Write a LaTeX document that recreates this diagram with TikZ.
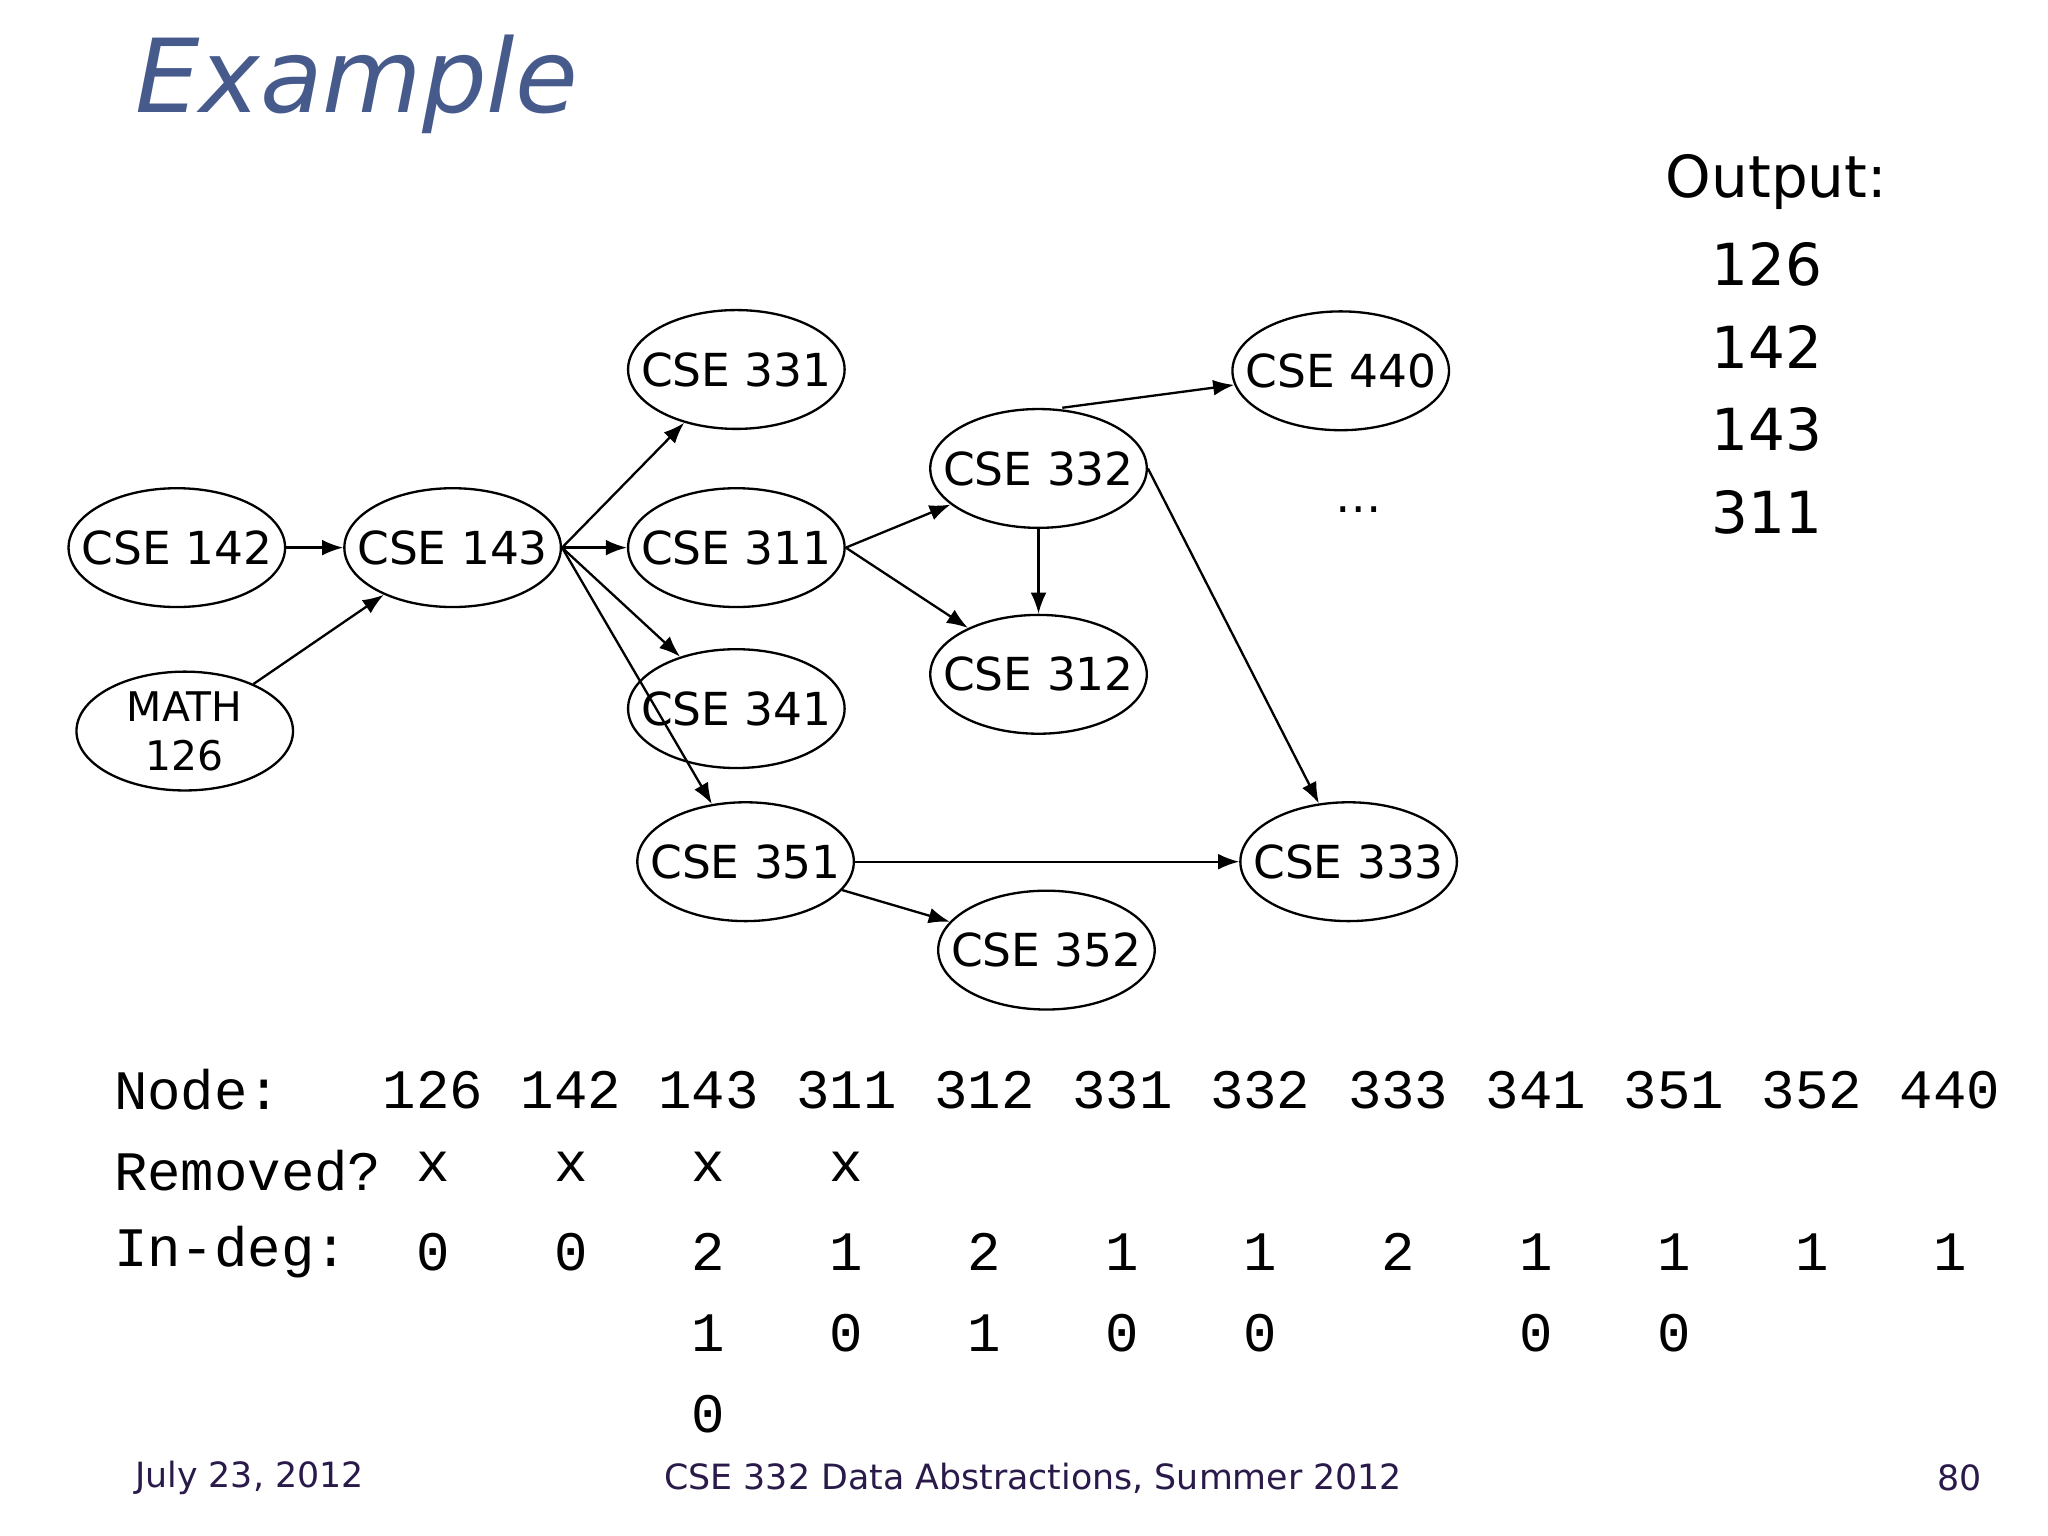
\documentclass[tikz,border=0pt]{standalone}
\usepackage{fontspec}
\setmainfont{DejaVu Sans}
\newfontfamily\monof{Liberation Mono}
\usetikzlibrary{shapes.geometric,arrows.meta}
\definecolor{titleblue}{HTML}{475A8C}
\definecolor{footc}{HTML}{2A1A4A}
\begin{document}
\begin{tikzpicture}[x=0.01cm,y=-0.01cm,
  course/.style={ellipse,draw,line width=0.5pt,minimum width=1.64cm,minimum height=0.9cm,inner xsep=-4.2pt,inner ysep=0pt,font=\fontsize{9.8}{11}\selectfont},
  edge/.style={-{Latex[length=1.6mm,width=1.2mm]},line width=0.5pt},
  cell/.style={font=\monof\fontsize{12}{14}\selectfont},
  foot/.style={font=\fontsize{7.5}{9}\selectfont,text=footc}]
\useasboundingbox (0,0) rectangle (1552,1164);
\node[anchor=west,font=\itshape\fontsize{22}{26}\selectfont,text=titleblue] (title) at (90,64) {Example};
\node[course] (c142) at (134,415) {CSE 142};
\node[course] (c143) at (343,415) {CSE 143};
\node[course,align=center,inner xsep=2pt,font=\fontsize{8.8}{10.5}\selectfont] (m126) at (140,554) {MATH\\126};
\node[course] (c331) at (558,280) {CSE 331};
\node[course] (c311) at (558,415) {CSE 311};
\node[course] (c341) at (558,537) {CSE 341};
\node[course] (c351) at (565,653) {CSE 351};
\node[course] (c332) at (787,355) {CSE 332};
\node[course] (c312) at (787,511) {CSE 312};
\node[course] (c352) at (793,720) {CSE 352};
\node[course] (c440) at (1016,281) {CSE 440};
\node[course] (c333) at (1022,653) {CSE 333};
\node (dots) at (1030,386) {\dots};
\draw[edge] (c142) -- (c143);
\draw[edge] (m126) -- (c143);
\draw[edge] (c143.east) -- (c331);
\draw[edge] (c143.east) -- (c311);
\draw[edge] (c143.east) -- (c341);
\draw[edge] (c143.east) -- (c351);
\draw[edge] (c311.east) -- (c332);
\draw[edge] (c311.east) -- (c312);
\draw[edge] (c332) -- (c312);
\coordinate (s440) at (805,309);
\draw[edge] (s440) -- (c440);
\draw[edge] (c332.east) -- (c333);
\draw[edge] (c351) -- (c333);
\draw[edge] (c351) -- (c352);
\node[anchor=west,font=\fontsize{12.5}{15}\selectfont] (out) at (1250,138) {Output:};
\foreach \v [count=\i] in {126,142,143,311}
  \node[font=\fontsize{12.5}{15}\selectfont] (o\i) at (1339,138+62.5*\i) {\v};
\node[cell,anchor=west] (hNode) at (74,826) {Node:};
\node[cell,anchor=west] (hRem) at (74,887) {Removed?};
\node[cell,anchor=west] (hDeg) at (74,949) {In-deg:};
\foreach \n/\d [count=\i] in {126/0,142/0,143/2,311/1,312/2,331/1,332/1,333/2,341/1,351/1,352/1,440/1}{
  \node[cell] (n\i) at (328+104.5*\i-104.5,826) {\n};
  \node[cell] (d\i) at (328+104.5*\i-104.5,949) {\d};
}
\foreach \i in {1,2,3,4} \node[cell] (r\i) at (328+104.5*\i-104.5,884) {x};
\foreach \i/\d in {3/1,4/0,5/1,6/0,7/0,9/0,10/0} \node[cell] (e\i) at (328+104.5*\i-104.5,1010) {\d};
\node[cell] (f3) at (537,1072) {0};
\node[foot,anchor=west] (date) at (90,1120) {July 23, 2012};
\node[foot] (course) at (783,1120) {CSE 332 Data Abstractions, Summer 2012};
\node[foot,anchor=east] (page) at (1514,1120) {80};
\end{tikzpicture}
\end{document}
